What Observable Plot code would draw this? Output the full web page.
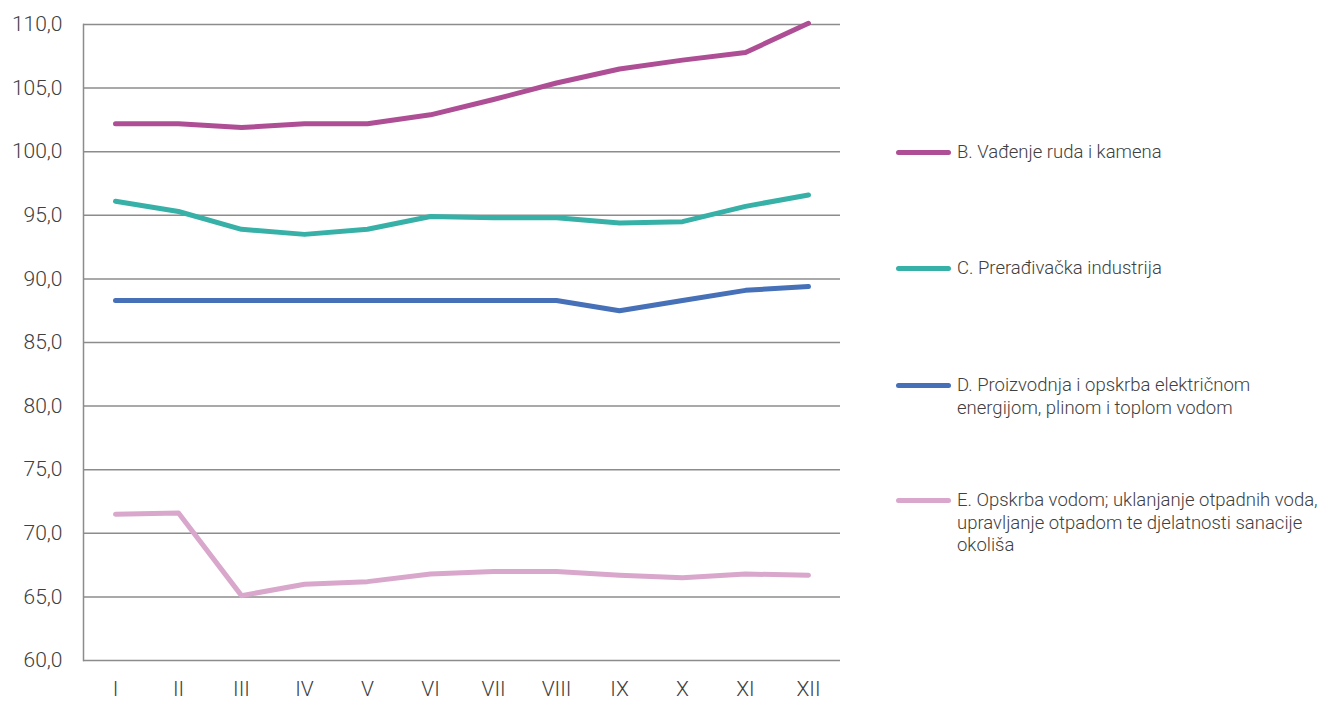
<!DOCTYPE html>
<html>
<head>
<meta charset="utf-8">
<script src="https://cdn.jsdelivr.net/npm/d3@7"></script>
<script src="https://cdn.jsdelivr.net/npm/@observablehq/plot@0.6"></script>
<style>
  body { margin: 0; background: #fff; font-family: Roboto, "Noto Sans", sans-serif; }
  #wrap { position: relative; width: 1326px; height: 701px; overflow: hidden; }
  #chart { position: absolute; left: 0; top: 0; }
  .leg { position: absolute; left: 896px; display: flex; align-items: flex-start; font-size: 18.5px; font-weight: 300; color: #404040; line-height: 22.5px; white-space: nowrap; }
  .sw { width: 55px; height: 5px; border-radius: 3px; margin-top: 9px; margin-right: 6px; flex: none; }
</style>
</head>
<body>
<div id="wrap"><div id="chart"></div></div>
<script>
const months = ["I","II","III","IV","V","VI","VII","VIII","IX","X","XI","XII"];
const seriesNames = [
  "B. Vađenje ruda i kamena",
  "C. Prerađivačka industrija",
  "D. Proizvodnja i opskrba električnom energijom, plinom i toplom vodom",
  "E. Opskrba vodom; uklanjanje otpadnih voda, upravljanje otpadom te djelatnosti sanacije okoliša"
];
const legendLines = [
  ["B. Vađenje ruda i kamena"],
  ["C. Prerađivačka industrija"],
  ["D. Proizvodnja i opskrba električnom", "energijom, plinom i toplom vodom"],
  ["E. Opskrba vodom; uklanjanje otpadnih voda,", "upravljanje otpadom te djelatnosti sanacije", "okoliša"]
];
const seriesColors = ["#ae4f95", "#37b1a7", "#4670b7", "#d8a7cb"];
const valuesB = [102.2, 102.2, 101.9, 102.2, 102.2, 102.9, 104.1, 105.4, 106.5, 107.2, 107.8, 110.1];
const valuesC = [96.1, 95.3, 93.9, 93.5, 93.9, 94.9, 94.8, 94.8, 94.4, 94.5, 95.7, 96.6];
const valuesD = [88.3, 88.3, 88.3, 88.3, 88.3, 88.3, 88.3, 88.3, 87.5, 88.3, 89.1, 89.4];
const valuesE = [71.5, 71.6, 65.1, 66.0, 66.2, 66.8, 67.0, 67.0, 66.7, 66.5, 66.8, 66.7];
const yTicks = [60, 65, 70, 75, 80, 85, 90, 95, 100, 105, 110];
const legendTops = [141, 257, 374, 489];

const allValues = [valuesB, valuesC, valuesD, valuesE];
const data = [];
allValues.forEach((vals, si) => vals.forEach((v, i) => data.push({month: months[i], value: v, series: seriesNames[si]})));

const fmt = d => d.toFixed(1).replace(".", ",");

const chart = Plot.plot({
  width: 860,
  height: 701,
  marginLeft: 83,
  marginRight: 20,
  marginTop: 24,
  marginBottom: 41,
  style: { fontFamily: "Roboto, 'Noto Sans', sans-serif", fontSize: "21px", color: "#404040", fontWeight: 300, overflow: "visible" },
  x: { type: "point", domain: months, padding: 0.5, label: null },
  y: { domain: [60, 110], label: null },
  color: { domain: seriesNames, range: seriesColors },
  marks: [
    Plot.ruleY(yTicks, { stroke: "#8c8c8c", strokeWidth: 1.5 }),
    Plot.frame({ anchor: "left", stroke: "#8c8c8c", strokeWidth: 1.5 }),
    Plot.axisY({ ticks: yTicks, tickFormat: fmt, tickSize: 0, tickPadding: 21, fill: "#404040" }),
    Plot.axisX({ tickSize: 0, tickPadding: 21, fill: "#404040" }),
    Plot.line(data, { x: "month", y: "value", z: "series", stroke: "series", strokeWidth: 5, strokeLinecap: "round", strokeLinejoin: "round", clip: false })
  ]
});
document.getElementById("chart").appendChild(chart);

const wrap = document.getElementById("wrap");
legendLines.forEach((lines, i) => {
  const item = document.createElement("div");
  item.className = "leg";
  item.style.top = legendTops[i] + "px";
  const sw = document.createElement("div");
  sw.className = "sw";
  sw.style.background = seriesColors[i];
  const tx = document.createElement("div");
  tx.innerHTML = lines.join("<br>");
  item.appendChild(sw);
  item.appendChild(tx);
  wrap.appendChild(item);
});
</script>
</body>
</html>
